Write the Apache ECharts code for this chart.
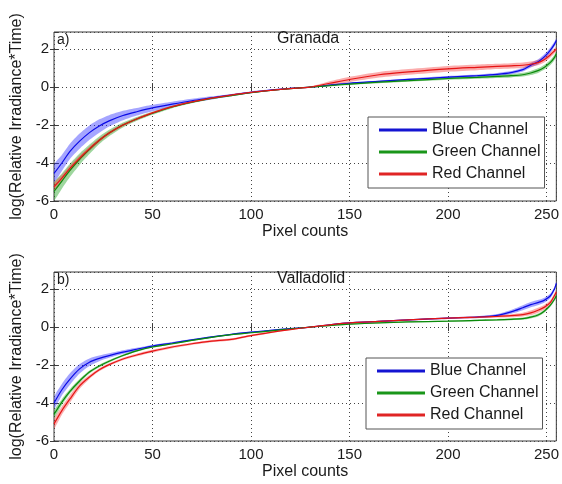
<!DOCTYPE html>
<html>
<head>
<meta charset="utf-8">
<script src="https://cdn.jsdelivr.net/npm/echarts@6/dist/echarts.min.js"></script>
<style>html,body{margin:0;padding:0;background:#fff;}#c{width:562px;height:484px;}</style>
</head>
<body>
<div id="c"></div>
<script>
// Pixel-count sample positions (shared by both panels)
const xs = [0, 4, 8, 13, 18, 23, 28, 35, 42, 50, 60, 70, 80, 90, 100, 110, 120, 130, 140, 150, 165, 180, 200, 215, 225, 232, 238, 242, 246, 249, 252, 254, 255];

// Panel a) Granada : means and band half-widths
const granadaBlue   = [-4.55,-4.0,-3.4,-2.85,-2.4,-2.05,-1.78,-1.5,-1.3,-1.1,-0.9,-0.72,-0.57,-0.42,-0.28,-0.16,-0.07,0.0,0.1,0.2,0.3,0.4,0.52,0.6,0.67,0.76,0.92,1.15,1.35,1.6,1.95,2.25,2.45];
const granadaBlueSd = [0.45,0.42,0.4,0.4,0.38,0.35,0.3,0.25,0.2,0.17,0.13,0.1,0.08,0.06,0.05,0.04,0.03,0.02,0.04,0.05,0.05,0.05,0.06,0.06,0.07,0.08,0.1,0.12,0.13,0.14,0.14,0.13,0.12];
const granadaGreen  = [-5.5,-4.95,-4.4,-3.8,-3.28,-2.8,-2.42,-2.0,-1.68,-1.38,-1.05,-0.8,-0.6,-0.45,-0.3,-0.18,-0.08,0.0,0.08,0.16,0.26,0.34,0.45,0.51,0.56,0.6,0.65,0.74,0.88,1.05,1.3,1.55,1.75];
const granadaGreenSd= [0.45,0.4,0.35,0.3,0.25,0.2,0.17,0.13,0.1,0.08,0.06,0.05,0.04,0.04,0.03,0.03,0.02,0.02,0.04,0.05,0.06,0.06,0.07,0.07,0.08,0.09,0.1,0.11,0.12,0.13,0.14,0.14,0.14];
const granadaRed    = [-5.25,-4.8,-4.3,-3.75,-3.25,-2.8,-2.42,-2.0,-1.68,-1.36,-1.03,-0.78,-0.58,-0.42,-0.28,-0.17,-0.08,0.0,0.2,0.4,0.65,0.8,0.96,1.04,1.09,1.12,1.15,1.2,1.3,1.45,1.7,1.9,2.0];
const granadaRedSd  = [0.2,0.18,0.16,0.14,0.12,0.1,0.09,0.08,0.07,0.06,0.05,0.05,0.04,0.04,0.03,0.03,0.03,0.03,0.1,0.14,0.15,0.15,0.15,0.15,0.14,0.14,0.14,0.14,0.14,0.14,0.14,0.13,0.12];

// Panel b) Valladolid
const vallaBlue     = [-4.0,-3.3,-2.75,-2.2,-1.85,-1.65,-1.5,-1.32,-1.17,-1.0,-0.84,-0.67,-0.52,-0.38,-0.27,-0.17,-0.08,0.0,0.12,0.22,0.3,0.38,0.47,0.53,0.62,0.8,1.02,1.18,1.3,1.42,1.65,2.0,2.3];
const vallaBlueSd   = [0.3,0.3,0.3,0.25,0.2,0.15,0.12,0.1,0.08,0.06,0.05,0.04,0.04,0.03,0.03,0.03,0.02,0.02,0.03,0.03,0.03,0.03,0.04,0.05,0.07,0.1,0.13,0.14,0.14,0.13,0.12,0.1,0.1];
const vallaGreen    = [-4.6,-3.95,-3.4,-2.84,-2.37,-2.05,-1.8,-1.5,-1.25,-1.05,-0.88,-0.7,-0.54,-0.4,-0.3,-0.2,-0.1,0.0,0.08,0.15,0.22,0.27,0.31,0.35,0.38,0.41,0.44,0.52,0.65,0.85,1.15,1.45,1.65];
const vallaGreenSd  = [0.2,0.15,0.12,0.1,0.08,0.07,0.06,0.05,0.05,0.04,0.04,0.03,0.03,0.03,0.03,0.03,0.02,0.02,0.03,0.03,0.03,0.03,0.03,0.04,0.04,0.05,0.06,0.07,0.08,0.08,0.08,0.08,0.08];
const vallaRed      = [-5.1,-4.4,-3.8,-3.1,-2.63,-2.25,-1.98,-1.68,-1.47,-1.27,-1.05,-0.88,-0.74,-0.65,-0.45,-0.28,-0.13,0.0,0.12,0.22,0.3,0.38,0.47,0.52,0.56,0.6,0.66,0.75,0.9,1.05,1.3,1.65,1.85];
const vallaRedSd    = [0.25,0.22,0.2,0.15,0.1,0.08,0.07,0.07,0.07,0.07,0.06,0.06,0.06,0.06,0.05,0.04,0.03,0.02,0.03,0.03,0.03,0.03,0.04,0.05,0.06,0.08,0.1,0.12,0.13,0.13,0.12,0.12,0.12];

const xTicks = [0, 50, 100, 150, 200, 250];
const yTicks = [-6, -4, -2, 0, 2];
const channelNames = ['Blue Channel', 'Green Channel', 'Red Channel'];
const panelTitles = ['Granada', 'Valladolid'];
const panelTags = ['a)', 'b)'];
const xName = 'Pixel counts';
const yName = 'log(Relative Irradiance*Time)';

const lineColors = ['#0a0ae6', '#0a8a0a', '#e61414'];
const bandColors = ['rgba(40,40,255,0.42)', 'rgba(0,150,0,0.38)', 'rgba(245,40,40,0.38)'];
const legendColors = ['#1414d2', '#1a961a', '#e02424'];

const panels = [
  [[granadaBlue, granadaBlueSd], [granadaGreen, granadaGreenSd], [granadaRed, granadaRedSd]],
  [[vallaBlue, vallaBlueSd], [vallaGreen, vallaGreenSd], [vallaRed, vallaRedSd]]
];

const gridTops = [32, 272];
const FONT = 'Liberation Sans, Arial, Helvetica, sans-serif';

const grids = gridTops.map(t => ({left: 54, top: t, width: 505, height: 169, show: true, borderColor: '#3a3a3a', borderWidth: 1, backgroundColor: 'transparent'}));

const tickStyle = {show: true, inside: true, length: 4, lineStyle: {color: '#3a3a3a'}};

const xAxes = gridTops.map((t, i) => ({
  type: 'value', gridIndex: i, min: 0, max: 255, interval: 50,
  name: xName, nameLocation: 'middle', nameGap: 23,
  nameTextStyle: {fontFamily: FONT, fontSize: 16, color: '#1a1a1a'},
  axisLine: {show: false},
  axisTick: tickStyle,
  axisLabel: {margin: 6, fontFamily: FONT, fontSize: 15, color: '#1a1a1a',
    formatter: v => xTicks.includes(v) ? String(v) : ''},
  splitLine: {show: true, lineStyle: {type: [1, 3], color: '#444', width: 1}}
}));
// top-side tick marks (box style)
gridTops.forEach((t, i) => xAxes.push({
  type: 'value', gridIndex: i, position: 'top', min: 0, max: 255, interval: 50,
  axisLine: {show: false}, axisLabel: {show: false}, splitLine: {show: false},
  axisTick: {show: true, inside: true, length: 4, lineStyle: {color: '#3a3a3a'},
    customValues: xTicks}
}));

const yAxes = gridTops.map((t, i) => ({
  type: 'value', gridIndex: i, min: -6, max: 2.9, interval: 2,
  name: yName, nameLocation: 'middle', nameGap: 28,
  nameTextStyle: {fontFamily: FONT, fontSize: 16, color: '#1a1a1a'},
  axisLine: {show: false},
  axisTick: tickStyle,
  axisLabel: {margin: 5, fontFamily: FONT, fontSize: 15, color: '#1a1a1a',
    formatter: v => yTicks.includes(v) ? String(v) : ''},
  splitLine: {show: true, lineStyle: {type: [1, 3], color: '#444', width: 1}}
}));
// right-side tick marks (box style)
gridTops.forEach((t, i) => yAxes.push({
  type: 'value', gridIndex: i, position: 'right', min: -6, max: 2.9, interval: 2,
  axisLine: {show: false}, axisLabel: {show: false}, splitLine: {show: false},
  axisTick: {show: true, inside: true, length: 4, lineStyle: {color: '#3a3a3a'},
    customValues: yTicks}
}));

function bandRenderer(color) {
  return function (params, api) {
    if (params.dataIndexInside !== 0) return null;
    const n = params.dataInsideLength;
    const upper = [], lower = [];
    for (let k = 0; k < n; k++) {
      const x = api.value(0, k);
      upper.push(api.coord([x, api.value(2, k)]));
      lower.push(api.coord([x, api.value(1, k)]));
    }
    const pts = upper.concat(lower.reverse());
    return {
      type: 'polygon',
      shape: {points: pts, smooth: 0.25},
      style: {fill: color, stroke: null},
      silent: true
    };
  };
}

const series = [];
panels.forEach((chs, p) => {
  chs.forEach((pair, c) => {
    const mean = pair[0], sd = pair[1];
    series.push({
      type: 'custom', xAxisIndex: p, yAxisIndex: p, clip: true,
      data: xs.map((x, k) => [x, mean[k] - sd[k], mean[k] + sd[k]]),
      encode: {x: 0, y: [1, 2]},
      renderItem: bandRenderer(bandColors[c]), silent: true, z: 1
    });
  });
  chs.forEach((pair, c) => {
    series.push({
      name: channelNames[c], type: 'line', xAxisIndex: p, yAxisIndex: p,
      data: xs.map((x, k) => [x, pair[0][k]]),
      showSymbol: false, symbol: 'none', smooth: 0.3,
      color: legendColors[c],
      lineStyle: {color: lineColors[c], width: 1.2}, z: 3
    });
  });
});

const legendPos = [[368, 117], [366, 358]];
const legends = legendPos.map(lp => ({
  data: channelNames.map(n => ({name: n, icon: 'rect'})),
  orient: 'vertical', left: lp[0], top: lp[1],
  padding: [5, 4, 6, 11], itemWidth: 48, itemHeight: 3, itemGap: 6,
  backgroundColor: '#fff', borderColor: '#555', borderWidth: 1,
  selectedMode: false,
  textStyle: {fontFamily: FONT, fontSize: 16, color: '#1a1a1a', padding: [0, 0, 0, 0]}
}));

const titles = [];
gridTops.forEach((t, i) => {
  titles.push({text: panelTitles[i], left: 277, top: t - 1, padding: 0,
    textStyle: {fontFamily: FONT, fontSize: 16, fontWeight: 'normal', color: '#1a1a1a'}});
  titles.push({text: panelTags[i], left: 57, top: t + 1, padding: 0,
    textStyle: {fontFamily: FONT, fontSize: 14, fontWeight: 'normal', color: '#1a1a1a'}});
});

const chart = echarts.init(document.getElementById('c'), null, {renderer: 'canvas'});
chart.setOption({
  animation: false,
  backgroundColor: '#fff',
  title: titles,
  legend: legends,
  grid: grids,
  xAxis: xAxes,
  yAxis: yAxes,
  series: series
});
</script>
</body>
</html>
